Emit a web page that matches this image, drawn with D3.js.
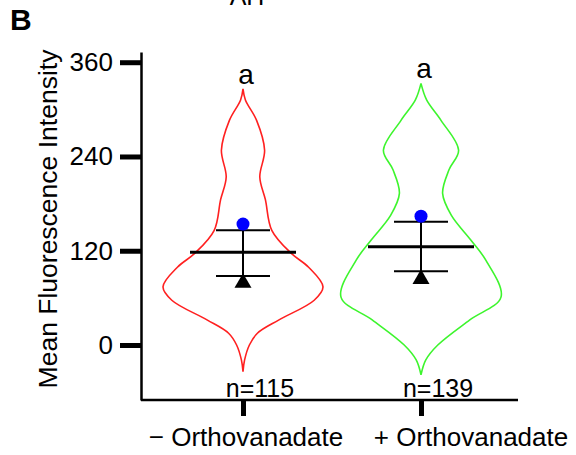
<!DOCTYPE html>
<html>
<head>
<meta charset="utf-8">
<script src="https://cdn.jsdelivr.net/npm/d3@7"></script>
<style>
  body { margin: 0; background: #fff; }
  text { font-family: "Liberation Sans", Arial, sans-serif; }
</style>
</head>
<body>
<script>
// groups
const categories = ['− Orthovanadate', '+ Orthovanadate'];
const counts = ['n=115', 'n=139'];
const letters = ['a', 'a'];
const colors = ['#ff2020', '#3df52d'];

// summary values per group
const means = [118, 125];
const upper = [146, 157];
const lower = [88, 94];
const dots = [154, 164];
const triangles = [79, 84];

// violin outlines: [value, relative density]
const densityMinus = [
  [-34, 0], [-19, 0.02], [0, 0.08], [15, 0.18], [32, 0.45], [57, 0.89], [74, 1.0],
  [99, 0.82], [117, 0.6], [146, 0.36], [185, 0.28], [214, 0.21], [248, 0.27],
  [286, 0.17], [312, 0.03], [326, 0]
];
const densityPlus = [
  [-38, 0], [-19, 0.06], [0, 0.21], [32, 0.61], [61, 1.0], [108, 0.81],
  [134, 0.62], [165, 0.38], [193, 0.27], [223, 0.35], [248, 0.47], [286, 0.25],
  [312, 0.07], [333, 0]
];
const densities = [densityMinus, densityPlus];

const yTicks = [0, 120, 240, 360];

const svg = d3.select('body').append('svg')
  .attr('width', 576)
  .attr('height', 455);

const x = d3.scalePoint().domain(categories).range([243, 421]);
const y = d3.scaleLinear().domain([-70, 373]).range([400, 52]);
const w = d3.scaleLinear().domain([0, 1]).range([0, 80]);

// panel letter + cut-off title
svg.append('text').attr('x', 10).attr('y', 30)
  .attr('font-size', 30).attr('font-weight', 'bold').text('B');
svg.append('text').attr('x', 247).attr('y', 5)
  .attr('font-size', 25).attr('text-anchor', 'middle').text('AH');

// y axis
const yAxis = svg.append('g')
  .attr('transform', 'translate(141,0)')
  .call(d3.axisLeft(y).tickValues(yTicks).tickSize(21).tickSizeOuter(0).tickPadding(7));
yAxis.select('.domain').attr('stroke-width', 2.5);
yAxis.selectAll('.tick line').attr('stroke-width', 5);
yAxis.selectAll('.tick text').attr('font-size', 26)
  .attr('font-family', '"Liberation Sans", Arial, sans-serif').attr('fill', '#000');

svg.append('text')
  .attr('transform', 'translate(57,219) rotate(-90)')
  .attr('text-anchor', 'middle')
  .attr('font-size', 26.5)
  .text('Mean Fluorescence Intensity');

// x axis
const xAxis = svg.append('g')
  .attr('transform', 'translate(0,400)')
  .call(d3.axisBottom(x).tickSize(16).tickSizeOuter(0).tickFormat(''));
xAxis.select('.domain').attr('d', 'M141,0H518').attr('stroke-width', 2.5);
xAxis.selectAll('.tick line').attr('stroke-width', 5);

const labelShift = [3, 50];
svg.selectAll('.xlab').data(categories).join('text')
  .attr('class', 'xlab')
  .attr('x', (d, i) => x(d) + labelShift[i])
  .attr('y', 446)
  .attr('text-anchor', 'middle')
  .attr('font-size', 26)
  .text(d => d);

// violins
const area = d3.area()
  .curve(d3.curveCatmullRom.alpha(0.5))
  .y(d => y(d[0]));

categories.forEach((c, i) => {
  const cx = x(c);
  const g = svg.append('g');

  g.append('path')
    .datum(densities[i])
    .attr('d', area.x0(d => cx - w(d[1])).x1(d => cx + w(d[1])))
    .attr('fill', 'none')
    .attr('stroke', colors[i])
    .attr('stroke-width', 1.6);

  // error bar
  g.append('line')
    .attr('x1', cx).attr('x2', cx)
    .attr('y1', y(upper[i])).attr('y2', y(lower[i]))
    .attr('stroke', '#000').attr('stroke-width', 2);
  [upper[i], lower[i]].forEach(v => {
    g.append('line')
      .attr('x1', cx - 27).attr('x2', cx + 27)
      .attr('y1', y(v)).attr('y2', y(v))
      .attr('stroke', '#000').attr('stroke-width', 2);
  });

  // mean
  g.append('line')
    .attr('x1', cx - 53).attr('x2', cx + 53)
    .attr('y1', y(means[i])).attr('y2', y(means[i]))
    .attr('stroke', '#000').attr('stroke-width', 3);

  g.append('circle')
    .attr('cx', cx).attr('cy', y(dots[i])).attr('r', 6.5)
    .attr('fill', '#0000ff');

  g.append('path')
    .attr('d', d3.symbol(d3.symbolTriangle, 125)())
    .attr('transform', `translate(${cx},${y(triangles[i])})`)
    .attr('fill', '#000');

  const top = densities[i][densities[i].length - 1][0];
  g.append('text')
    .attr('x', cx + 3).attr('y', y(top) - 5)
    .attr('text-anchor', 'middle')
    .attr('font-size', 28)
    .text(letters[i]);

  g.append('text')
    .attr('x', cx + 17).attr('y', 397)
    .attr('text-anchor', 'middle')
    .attr('font-size', 25)
    .text(counts[i]);
});
</script>
</body>
</html>
